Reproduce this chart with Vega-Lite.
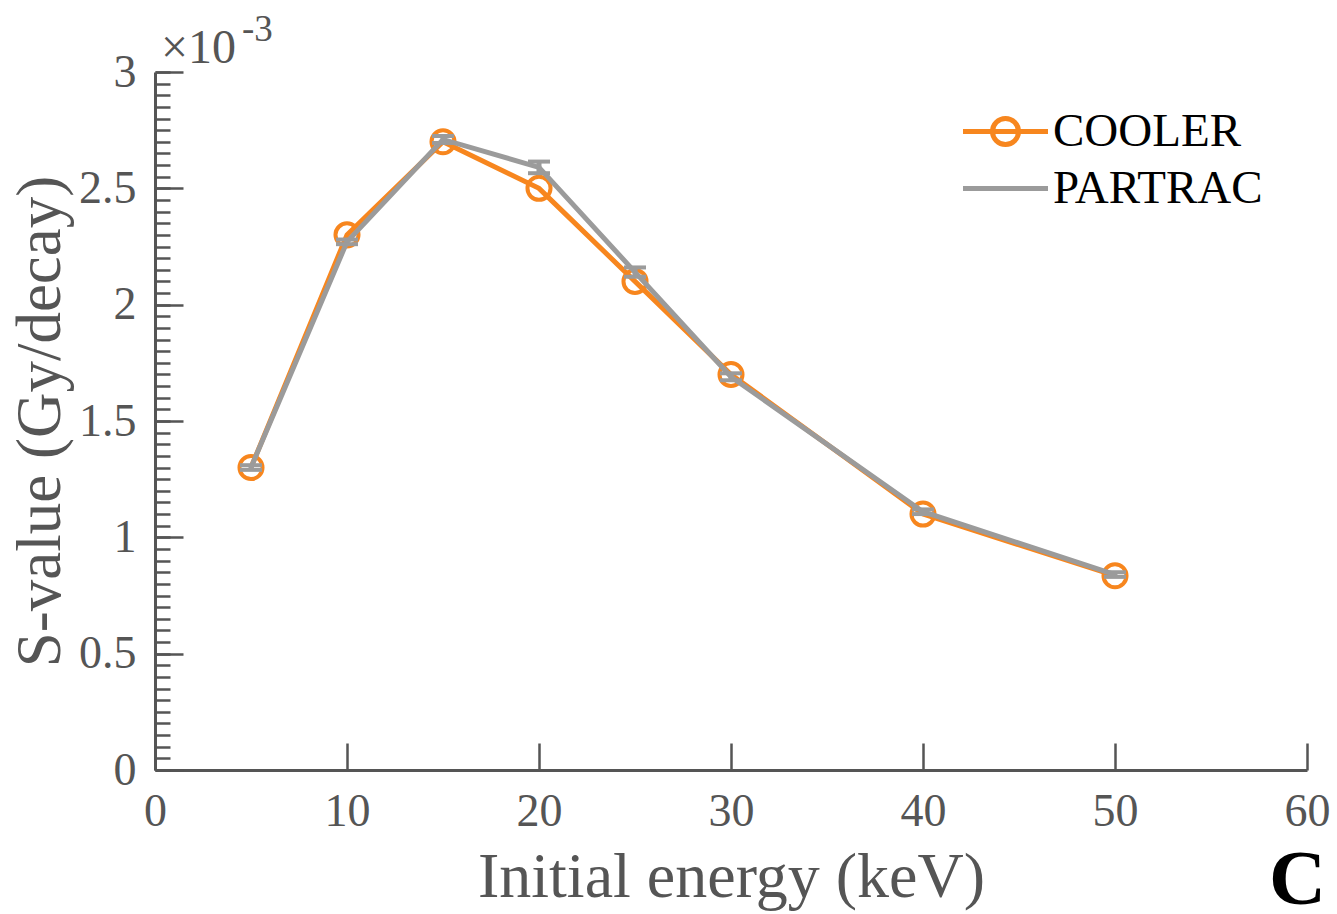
{
  "$schema": "https://vega.github.io/schema/vega-lite/v6.json",
  "width": 1152,
  "height": 698,
  "autosize": {"type": "none"},
  "padding": {"left": 155, "top": 72, "right": 30, "bottom": 144},
  "background": "white",
  "config": {
    "view": {"stroke": null},
    "font": "Liberation Serif",
    "axis": {"grid": false},
    "legend": {
      "orient": "none",
      "legendX": 823,
      "legendY": 32,
      "padding": 0,
      "labelFont": "Liberation Serif",
      "labelFontSize": 47,
      "labelColor": "#000000",
      "labelLimit": 500,
      "labelOffset": 20,
      "symbolSize": 2500,
      "symbolStrokeWidth": 5,
      "rowPadding": 6
    }
  },
  "datasets": {
    "series": [
      {"energy": 5, "svalue": 1.30, "model": "COOLER"},
      {"energy": 10, "svalue": 2.30, "model": "COOLER"},
      {"energy": 15, "svalue": 2.70, "model": "COOLER"},
      {"energy": 20, "svalue": 2.50, "model": "COOLER"},
      {"energy": 25, "svalue": 2.10, "model": "COOLER"},
      {"energy": 30, "svalue": 1.70, "model": "COOLER"},
      {"energy": 40, "svalue": 1.10, "model": "COOLER"},
      {"energy": 50, "svalue": 0.835, "model": "COOLER"},
      {"energy": 5, "svalue": 1.30, "lo": 1.29, "hi": 1.31, "model": "PARTRAC"},
      {"energy": 10, "svalue": 2.27, "lo": 2.26, "hi": 2.28, "model": "PARTRAC"},
      {"energy": 15, "svalue": 2.71, "lo": 2.695, "hi": 2.725, "model": "PARTRAC"},
      {"energy": 20, "svalue": 2.59, "lo": 2.565, "hi": 2.615, "model": "PARTRAC"},
      {"energy": 25, "svalue": 2.14, "lo": 2.12, "hi": 2.16, "model": "PARTRAC"},
      {"energy": 30, "svalue": 1.69, "lo": 1.675, "hi": 1.705, "model": "PARTRAC"},
      {"energy": 40, "svalue": 1.11, "lo": 1.10, "hi": 1.12, "model": "PARTRAC"},
      {"energy": 50, "svalue": 0.84, "lo": 0.83, "hi": 0.85, "model": "PARTRAC"}
    ]
  },
  "resolve": {"axis": {"y": "independent"}},
  "layer": [
    {
      "data": {"name": "series"},
      "transform": [{"filter": "datum.model === 'COOLER'"}],
      "mark": {"type": "line", "strokeWidth": 5},
      "encoding": {
        "x": {
          "field": "energy", "type": "quantitative",
          "scale": {"domain": [0, 60], "nice": false, "zero": false},
          "axis": {
            "values": [0, 10, 20, 30, 40, 50, 60],
            "format": "d",
            "tickSize": -27, "tickWidth": 2.5, "tickColor": "#555555",
            "domainColor": "#555555", "domainWidth": 3,
            "labelFont": "Liberation Serif", "labelFontSize": 46, "labelColor": "#555555",
            "labelPadding": 46, "labelFlush": false, "labelOverlap": false,
            "title": "Initial energy (keV)",
            "titleFont": "Liberation Serif", "titleFontSize": 64, "titleFontWeight": "normal",
            "titleColor": "#555555", "titlePadding": 11
          }
        },
        "y": {
          "field": "svalue", "type": "quantitative",
          "scale": {"domain": [0, 3], "nice": false},
          "axis": {
            "orient": "left",
            "values": [0, 0.5, 1, 1.5, 2, 2.5, 3],
            "format": "~g",
            "tickSize": -28, "tickWidth": 2.5, "tickColor": "#555555",
            "domainColor": "#555555", "domainWidth": 3,
            "labelFont": "Liberation Serif", "labelFontSize": 46, "labelColor": "#555555",
            "labelPadding": 47, "labelFlush": false, "labelOverlap": false,
            "title": "S-value (Gy/decay)",
            "titleFont": "Liberation Serif", "titleFontSize": 63, "titleFontWeight": "normal",
            "titleColor": "#555555", "titlePadding": 6
          }
        },
        "color": {
          "field": "model", "type": "nominal",
          "scale": {"domain": ["COOLER", "PARTRAC"], "range": ["#F7861E", "#9B9B9B"]},
          "legend": {
            "title": null,
            "symbolStrokeWidth": 5,
            "encode": {
              "symbols": {
                "update": {
                  "shape": {"signal": "datum.value === 'COOLER' ? 'M-1.7,0L1.7,0M-0.52,0A0.52,0.52,0,1,1,0.52,0A0.52,0.52,0,1,1,-0.52,0Z' : 'M-1.7,0L1.7,0'"},
                  "fill": {"value": "transparent"}
                }
              }
            }
          }
        }
      }
    },
    {
      "data": {"name": "series"},
      "transform": [{"filter": "datum.model === 'COOLER'"}],
      "mark": {"type": "point", "shape": "circle", "filled": false, "size": 531, "strokeWidth": 4, "color": "#F7861E", "opacity": 1},
      "encoding": {
        "x": {"field": "energy", "type": "quantitative"},
        "y": {
          "field": "svalue", "type": "quantitative",
          "axis": {
            "orient": "left",
            "values": [0, 0.05, 0.1, 0.15, 0.2, 0.25, 0.3, 0.35, 0.4, 0.45, 0.5, 0.55, 0.6, 0.65, 0.7, 0.75, 0.8, 0.85, 0.9, 0.95, 1, 1.05, 1.1, 1.15, 1.2, 1.25, 1.3, 1.35, 1.4, 1.45, 1.5, 1.55, 1.6, 1.65, 1.7, 1.75, 1.8, 1.85, 1.9, 1.95, 2, 2.05, 2.1, 2.15, 2.2, 2.25, 2.3, 2.35, 2.4, 2.45, 2.5, 2.55, 2.6, 2.65, 2.7, 2.75, 2.8, 2.85, 2.9, 2.95, 3],
            "tickSize": -15, "tickWidth": 2.5, "tickColor": "#555555",
            "domain": false, "labels": false, "title": null, "offset": 0
          }
        }
      }
    },
    {
      "data": {"name": "series"},
      "transform": [{"filter": "datum.model === 'PARTRAC'"}],
      "mark": {"type": "line", "strokeWidth": 5},
      "encoding": {
        "x": {"field": "energy", "type": "quantitative"},
        "y": {"field": "svalue", "type": "quantitative", "axis": null},
        "color": {"field": "model", "type": "nominal"}
      }
    },
    {
      "data": {"name": "series"},
      "transform": [{"filter": "datum.model === 'PARTRAC'"}],
      "mark": {"type": "rule", "strokeWidth": 5, "color": "#9B9B9B"},
      "encoding": {
        "x": {"field": "energy", "type": "quantitative"},
        "y": {"field": "lo", "type": "quantitative", "axis": null},
        "y2": {"field": "hi"}
      }
    },
    {
      "data": {"name": "series"},
      "transform": [{"filter": "datum.model === 'PARTRAC'"}],
      "mark": {"type": "tick", "orient": "horizontal", "size": 22, "thickness": 4, "color": "#9B9B9B", "opacity": 1},
      "encoding": {
        "x": {"field": "energy", "type": "quantitative"},
        "y": {"field": "lo", "type": "quantitative", "axis": null}
      }
    },
    {
      "data": {"name": "series"},
      "transform": [{"filter": "datum.model === 'PARTRAC'"}],
      "mark": {"type": "tick", "orient": "horizontal", "size": 22, "thickness": 4, "color": "#9B9B9B", "opacity": 1},
      "encoding": {
        "x": {"field": "energy", "type": "quantitative"},
        "y": {"field": "hi", "type": "quantitative", "axis": null}
      }
    },
    {
      "data": {"values": [{}]},
      "mark": {"type": "text", "text": "×10", "font": "Liberation Serif", "fontSize": 48, "color": "#555555", "align": "left", "baseline": "alphabetic", "dx": 6, "dy": -9},
      "encoding": {"x": {"datum": 0, "type": "quantitative"}, "y": {"datum": 3, "type": "quantitative", "axis": null}}
    },
    {
      "data": {"values": [{}]},
      "mark": {"type": "text", "text": "-3", "font": "Liberation Serif", "fontSize": 37, "color": "#555555", "align": "left", "baseline": "alphabetic", "dx": 87, "dy": -31},
      "encoding": {"x": {"datum": 0, "type": "quantitative"}, "y": {"datum": 3, "type": "quantitative", "axis": null}}
    },
    {
      "data": {"values": [{}]},
      "mark": {"type": "text", "text": "C", "font": "Liberation Serif", "fontSize": 79, "fontWeight": "bold", "color": "#000000", "align": "right", "baseline": "alphabetic", "dx": 19, "dy": 134},
      "encoding": {"x": {"datum": 60, "type": "quantitative"}, "y": {"datum": 0, "type": "quantitative", "axis": null}}
    }
  ]
}
